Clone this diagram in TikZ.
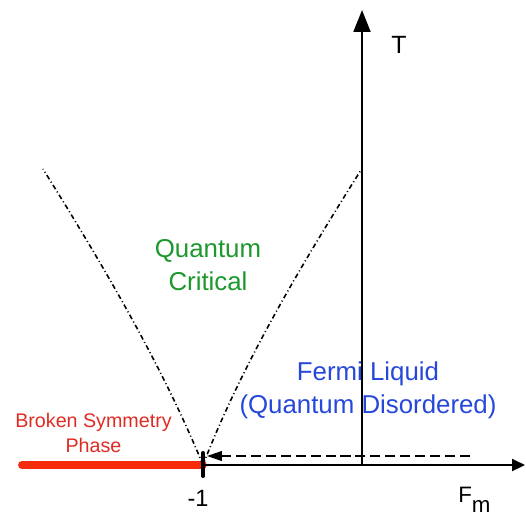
\documentclass[tikz,border=0pt]{standalone}
\usepackage{fontspec}
\setmainfont{Liberation Sans}
\usepackage{tikz}
\usetikzlibrary{positioning}
\usetikzlibrary{arrows.meta}

\definecolor{qcgreen}{RGB}{28,152,44}
\definecolor{flblue}{RGB}{38,72,218}
\definecolor{bstext}{RGB}{222,44,36}
\definecolor{bsline}{RGB}{244,44,12}

\begin{document}
\begin{tikzpicture}[
    phaseaxis/.style={line width=1.3pt},
    crossover/.style={line width=0.9pt, dash pattern=on 2.8pt off 1.6pt on 0.6pt off 1.6pt},
    flowarrow/.style={line width=1.1pt, dash pattern=on 5.7pt off 2.8pt, -{Triangle[length=8.5pt,width=5.5pt]}},
    bigtext/.style={align=center, font=\fontsize{14.7}{18.4}\selectfont},
    smalltext/.style={align=center, font=\fontsize{11.2}{14.2}\selectfont}
]

    \useasboundingbox (0,0) rectangle (10.52,10.32);

    \coordinate (crit) at (4.06,1.02);
    \coordinate [right=3.18cm of crit] (origin);
    \coordinate [above=9.10cm of origin] (ttip);
    \coordinate [right=3.26cm of origin] (ftip);
    \coordinate [left=3.62cm of crit] (redend);
    \coordinate [above right=0.18cm and 0.08cm of crit] (flowend);
    \coordinate [right=5.26cm of flowend] (flowstart);
    \coordinate [above=0.24cm of crit] (ticktop);
    \coordinate [below=0.22cm of crit] (tickbot);
    \coordinate (leftend) at (0.86,6.94);
    \coordinate (rightend) at (7.22,6.92);

    \node [bigtext, text=qcgreen, anchor=base] (qc) at (4.16,4.52) {Quantum\\Critical};
    \node [bigtext, text=flblue, anchor=base] (fl) at (7.36,2.06) {Fermi Liquid\\(Quantum Disordered)};
    \node [smalltext, text=bstext, anchor=base] (bs) at (1.87,1.28) {Broken Symmetry\\Phase};

    \node [font=\fontsize{14.2}{17}\selectfont, anchor=base] (tlabel) at (7.98,9.26) {T};
    \node [font=\fontsize{13.4}{16}\selectfont, anchor=base] (critlabel) at (3.96,0.20) {-1};
    \node [font=\fontsize{12.7}{15}\selectfont, anchor=base west, inner sep=0pt] (flabel) at (9.16,0.28) {F\raisebox{-6pt}{m}};

    \draw [bsline, line width=4.5pt, line cap=round] (redend) -- (crit);

    \draw [phaseaxis, -{Triangle[length=12.5pt,width=9.6pt]}] (origin) -- (ttip);
    \draw [phaseaxis, -{Triangle[length=7.4pt,width=6.8pt]}] (crit) -- (ftip);

    \draw [line width=2.3pt, line cap=round] (tickbot) -- (ticktop);

    \draw [crossover] (crit) .. controls +(-0.80,1.95) and +(1.22,-1.95) .. (leftend);
    \draw [crossover] (crit) .. controls +(0.75,1.95) and +(-1.23,-1.95) .. (rightend);

    \draw [flowarrow] (flowstart) -- (flowend);

\end{tikzpicture}
\end{document}
